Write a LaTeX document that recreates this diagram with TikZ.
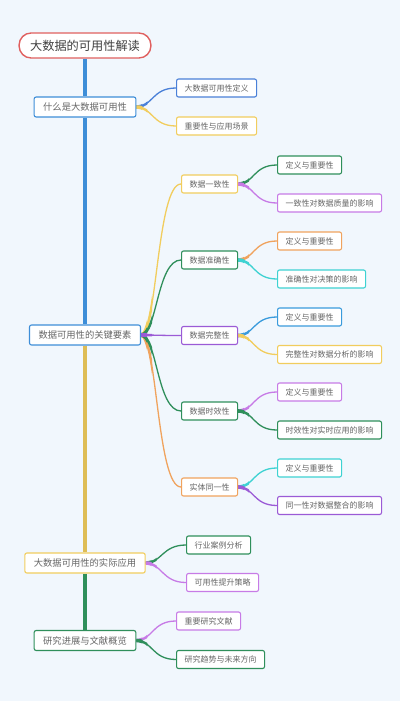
\documentclass[tikz,border=0pt]{standalone}
\usepackage{fontspec}
\setmainfont{Noto Sans CJK SC}
\usetikzlibrary{calc}
\definecolor{bgc}{HTML}{F1F7FD}
\definecolor{cred}{HTML}{E0605F}
\definecolor{cblue}{HTML}{3E8ED8}
\definecolor{cbluedef}{HTML}{4A80D8}
\definecolor{cblueb}{HTML}{3A9BDC}
\definecolor{cyellow}{HTML}{F1CD5E}
\definecolor{cgreen}{HTML}{2F8F5B}
\definecolor{cpurl}{HTML}{C77BE6}
\definecolor{cpurd}{HTML}{9B5BD6}
\definecolor{corange}{HTML}{F0A35E}
\definecolor{ccyan}{HTML}{3ED2D2}
\definecolor{ctext}{HTML}{666666}
\pgfdeclarelayer{bg}
\pgfdeclarelayer{conn}
\pgfsetlayers{bg,conn,main}
\tikzset{
  basebox/.style={draw, fill=white, text=ctext, rounded corners=2pt, line width=1.1pt},
  rootbox/.style={basebox, draw=cred, text=black!75, line width=1.4pt, rounded corners=12pt, minimum height=25pt, inner xsep=11pt, inner ysep=0pt, font=\fontsize{12.2}{14}\selectfont},
  lonebox/.style={basebox, minimum height=20pt, inner xsep=9pt, inner ysep=0pt, font=\fontsize{9.3}{11}\selectfont},
  subbox/.style={basebox, minimum height=18pt, inner xsep=8pt, inner ysep=0pt, anchor=west, font=\fontsize{8}{9.6}\selectfont},
  trunk/.style={line width=3.3pt},
}
\newcommand\mbcurve[2]{(#1.east) .. controls ($(#1.east)+(16,0)$) and ($(#2.west)+(-24,0)$) .. (#2.west)}
\newcommand\mbranch[3]{%
  \draw[#3, line width=1.3pt] \mbcurve{#1}{#2};
  \begin{scope}
    \clip ($(#1.east)+(-1,-300)$) rectangle ($(#1.east)+(11,300)$);
    \draw[#3, line width=2.4pt] \mbcurve{#1}{#2};
  \end{scope}
  \begin{scope}
    \clip ($(#1.east)+(-1,-300)$) rectangle ($(#1.east)+(6,300)$);
    \draw[#3, line width=3.6pt] \mbcurve{#1}{#2};
  \end{scope}}
\begin{document}
\begin{tikzpicture}[x=1pt,y=-1pt]
\begin{pgfonlayer}{bg}
\fill[bgc] (0,0) rectangle (400,701);
\end{pgfonlayer}
\useasboundingbox (0,0) rectangle (400,701);

\node[rootbox] (root) at (85,45.5) {大数据的可用性解读};
\node[lonebox, draw=cblue] (l1a) at (85,107) {什么是大数据可用性};
\node[lonebox, draw=cblue] (l1b) at (85,335) {数据可用性的关键要素};
\node[lonebox, draw=cyellow] (l1c) at (85,563) {大数据可用性的实际应用};
\node[lonebox, draw=cgreen] (l1d) at (85,640.5) {研究进展与文献概览};

\node[subbox, draw=cbluedef] (a1) at (176,88) {大数据可用性定义};
\node[subbox, draw=cyellow] (a2) at (176,126) {重要性与应用场景};

\node[subbox, draw=cyellow] (b1) at (181,184) {数据一致性};
\node[subbox, draw=cgreen] (b2) at (181,260) {数据准确性};
\node[subbox, draw=cpurd] (b3) at (181,335.5) {数据完整性};
\node[subbox, draw=cgreen] (b4) at (181,411) {数据时效性};
\node[subbox, draw=corange] (b5) at (181,487) {实体同一性};

\node[subbox, draw=cgreen] (b11) at (277,165) {定义与重要性};
\node[subbox, draw=cpurl] (b12) at (277,203) {一致性对数据质量的影响};
\node[subbox, draw=corange] (b21) at (277,241) {定义与重要性};
\node[subbox, draw=ccyan] (b22) at (277,279) {准确性对决策的影响};
\node[subbox, draw=cblueb] (b31) at (277,317) {定义与重要性};
\node[subbox, draw=cyellow] (b32) at (277,354.5) {完整性对数据分析的影响};
\node[subbox, draw=cpurl] (b41) at (277,392) {定义与重要性};
\node[subbox, draw=cgreen] (b42) at (277,430) {时效性对实时应用的影响};
\node[subbox, draw=ccyan] (b51) at (277,468) {定义与重要性};
\node[subbox, draw=cpurd] (b52) at (277,505.5) {同一性对数据整合的影响};

\node[subbox, draw=cgreen] (c1) at (186,545) {行业案例分析};
\node[subbox, draw=cpurl] (c2) at (186,582.5) {可用性提升策略};

\node[subbox, draw=cpurl] (d1) at (176,621) {重要研究文献};
\node[subbox, draw=cgreen] (d2) at (176,659.5) {研究趋势与未来方向};

\begin{pgfonlayer}{conn}
\draw[trunk, cblue] (root.south) -- (l1a.north);
\draw[trunk, cblue] (l1a.south) -- (l1b.north);
\draw[trunk, cyellow!92!black] (l1b.south) -- (l1c.north);
\draw[trunk, cgreen] (l1c.south) -- (l1d.north);

\mbranch{l1a}{a1}{cbluedef}
\mbranch{l1a}{a2}{cyellow}

\mbranch{l1b}{b5}{corange}
\mbranch{l1b}{b4}{cgreen}
\mbranch{l1b}{b1}{cyellow}
\mbranch{l1b}{b2}{cgreen}
\mbranch{l1b}{b3}{cpurd}

\mbranch{b1}{b11}{cgreen}
\mbranch{b1}{b12}{cpurl}
\mbranch{b2}{b21}{corange}
\mbranch{b2}{b22}{ccyan}
\mbranch{b3}{b31}{cblueb}
\mbranch{b3}{b32}{cyellow}
\mbranch{b4}{b41}{cpurl}
\mbranch{b4}{b42}{cgreen}
\mbranch{b5}{b51}{ccyan}
\mbranch{b5}{b52}{cpurd}

\mbranch{l1c}{c1}{cgreen}
\mbranch{l1c}{c2}{cpurl}
\mbranch{l1d}{d1}{cpurl}
\mbranch{l1d}{d2}{cgreen}
\end{pgfonlayer}
\end{tikzpicture}
\end{document}
